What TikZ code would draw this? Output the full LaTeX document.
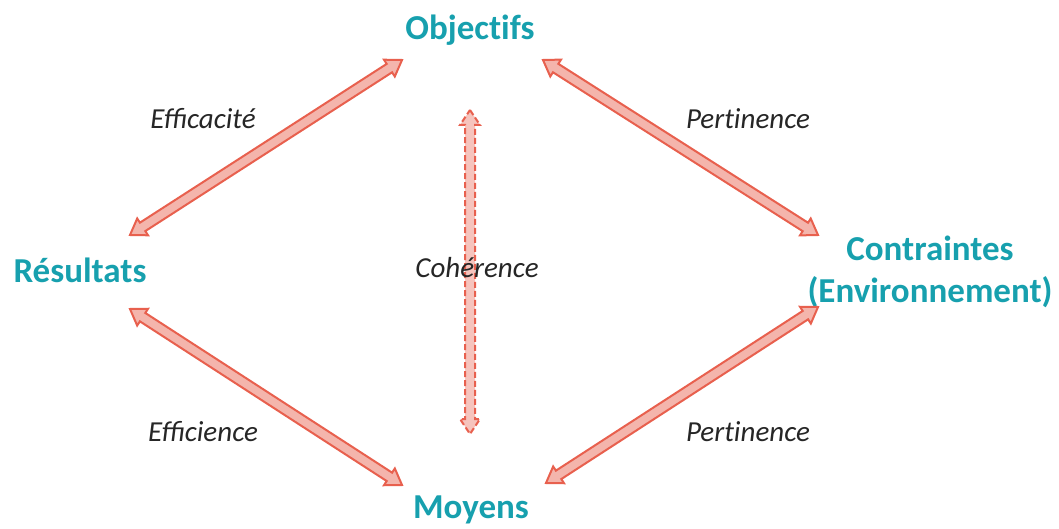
\documentclass[tikz,border=0pt]{standalone}
\usepackage{fontspec}
\setmainfont{Carlito}
\usetikzlibrary{calc}
\definecolor{teal1}{HTML}{17A0AE}
\definecolor{aline}{HTML}{E8604E}
\definecolor{afill}{HTML}{F4B5AC}
\newcommand{\nl}{\kern0pt }
\tikzset{
  title/.style={text=teal1, font=\fontsize{35}{42}\selectfont\bfseries, align=center, inner sep=0pt},
  lab/.style={font=\fontsize{29}{34}\selectfont\itshape, text=black!85, inner sep=0pt},
  barrow/.style={draw=aline, fill=afill, line width=2pt, line join=miter},
  dbarrow/.style={barrow, fill=afill!80, dashed, dash pattern=on 6pt off 3pt}
}
\newcommand{\blockarrow}[3]{%
  \path[#3] (#1)
   -- ($($(#1)!15pt!(#2)$)!10pt!90:(#2)$)
   -- ($($(#1)!15pt!(#2)$)!5pt!90:(#2)$)
   -- ($($(#2)!15pt!(#1)$)!5pt!-90:(#1)$)
   -- ($($(#2)!15pt!(#1)$)!10pt!-90:(#1)$)
   -- (#2)
   -- ($($(#2)!15pt!(#1)$)!10pt!90:(#1)$)
   -- ($($(#2)!15pt!(#1)$)!5pt!90:(#1)$)
   -- ($($(#1)!15pt!(#2)$)!5pt!-90:(#2)$)
   -- ($($(#1)!15pt!(#2)$)!10pt!-90:(#2)$)
   -- cycle;}
\begin{document}
\begin{tikzpicture}[x=1pt,y=-1pt]
\useasboundingbox (0,0) rectangle (1059,529);
\node[title] (obj) at (470,30) {Object\nl ifs};
\node[title] (res) at (80,270) {Résultats};
\node[title] (con) at (930,272) {Contraintes\\(Environnement)};
\node[title] (moy) at (471,510) {Moyens};

\coordinate (o1) at (402,60);
\coordinate (r1) at (130,235);
\coordinate (o2) at (543,60);
\coordinate (c1) at (818,235);
\coordinate (r2) at (130,309);
\coordinate (m1) at (402,485);
\coordinate (m2) at (546,483);
\coordinate (c2) at (818,307);
\coordinate (o3) at (470,110);
\coordinate (m3) at (470,434);

\blockarrow{r1}{o1}{barrow}
\blockarrow{o2}{c1}{barrow}
\blockarrow{r2}{m1}{barrow}
\blockarrow{m2}{c2}{barrow}
\blockarrow{o3}{m3}{dbarrow}

\node[lab] (l1) at (203,119) {Efficacité};
\node[lab] (l2) at (748,119) {Pert\nl inence};
\node[lab] (l3) at (477,268) {Cohérence};
\node[lab] (l4) at (203,432) {Efficience};
\node[lab] (l5) at (748,432) {Pert\nl inence};
\end{tikzpicture}
\end{document}
